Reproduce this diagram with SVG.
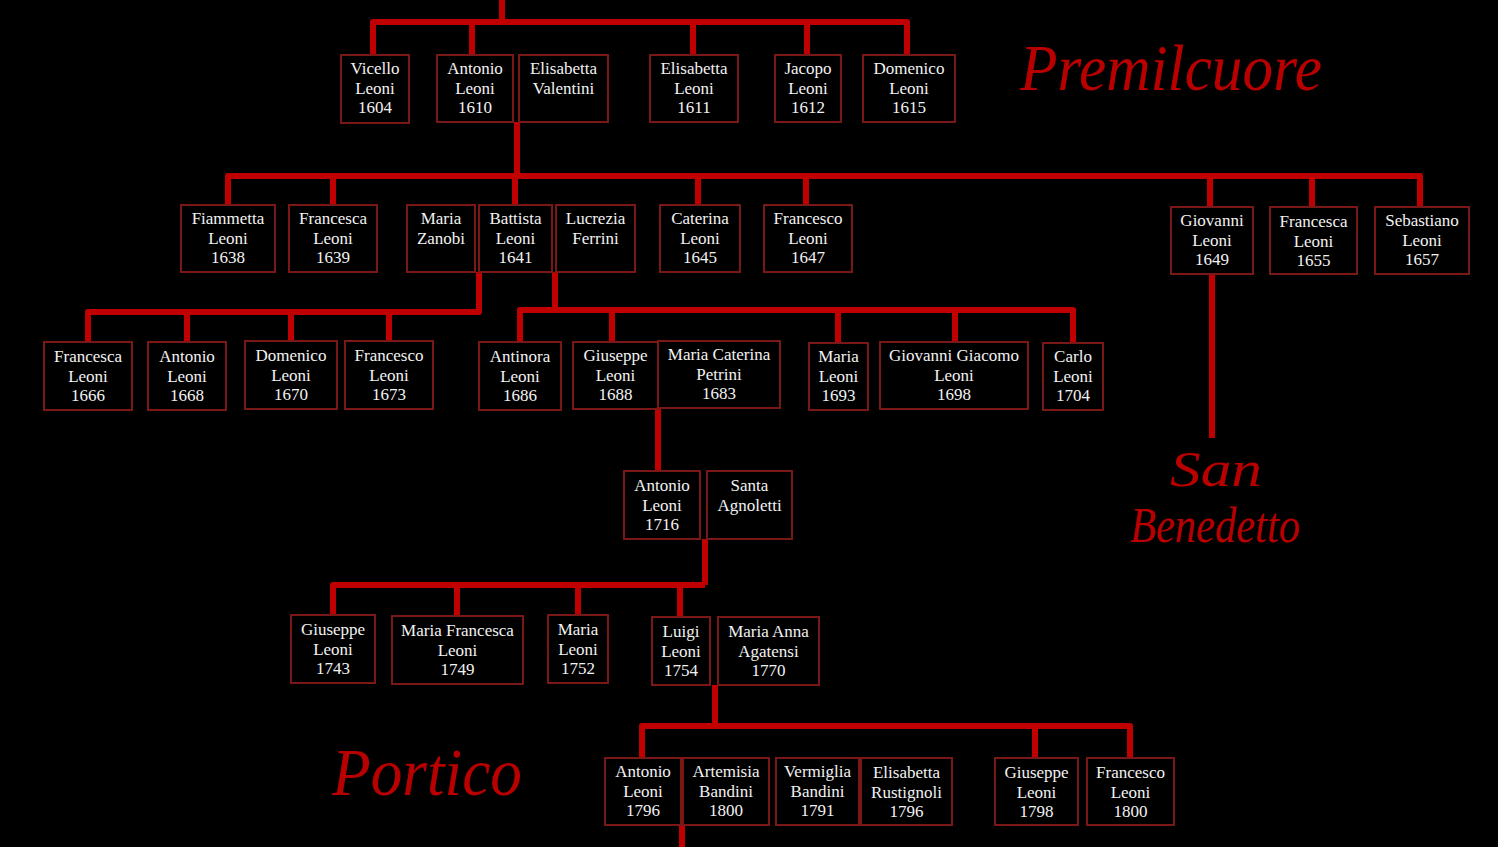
<svg xmlns="http://www.w3.org/2000/svg" width="1498" height="847" viewBox="0 0 1498 847">
<style>
.bg{fill:#000}
.wire{stroke:#c00000;stroke-width:6;fill:none;stroke-linejoin:round}
.node rect{fill:#000;stroke:#7a1818;stroke-width:2}
.node text{font-family:"Liberation Serif","DejaVu Serif",serif;font-size:17px;fill:#f2f2f2;text-anchor:middle}
.place{font-family:"Liberation Serif","DejaVu Serif",serif;font-style:italic;fill:#b80000}
</style>
<rect class="bg" x="0" y="0" width="1498" height="847"/>
<g id="connectors">
<path class="wire" d="M502,0 V22 M373,55 V22 H907 V55 M472,22 V55 M693,22 V55 M807,22 V55"/>
<path class="wire" d="M517,122 V176 M228,205 V176 H1420 V207 M333,176 V205 M515,176 V205 M698,176 V205 M806,176 V205 M1210,176 V207 M1312,176 V207"/>
<path class="wire" d="M1212,274 V438"/>
<path class="wire" d="M479,272 V312 H88 V342 M187,312 V342 M291,312 V341 M389,312 V341"/>
<path class="wire" d="M555,272 V310 M520,342 V310 H1073 V343 M612,310 V342 M838,310 V343 M955,310 V342"/>
<path class="wire" d="M658,409 V471"/>
<path class="wire" d="M705,539 V585 M333,615 V585 H705 M457,585 V616 M578,585 V615 M680,585 V617"/>
<path class="wire" d="M715,685 V726 M642,758 V726 H1130 V758 M1035,726 V758"/>
<path class="wire" d="M682,825 V847"/>
</g>
<g id="labels">
<text class="place" x="1020" y="90" font-size="66" textLength="302" lengthAdjust="spacingAndGlyphs">Premilcuore</text>
<text class="place" x="1170" y="486" font-size="50" textLength="92" lengthAdjust="spacingAndGlyphs">San</text>
<text class="place" x="1130" y="542" font-size="50" textLength="170" lengthAdjust="spacingAndGlyphs">Benedetto</text>
<text class="place" x="332" y="795" font-size="68" textLength="190" lengthAdjust="spacingAndGlyphs">Portico</text>
</g>
<g id="n-vicello" class="node"><rect x="341" y="55" width="68" height="68"/><text x="375" y="74">Vicello<tspan x="375" dy="19.5">Leoni</tspan><tspan x="375" dy="19.5">1604</tspan></text></g>
<g id="n-antonio1610" class="node"><rect x="437" y="55" width="76" height="67"/><text x="475" y="74">Antonio<tspan x="475" dy="19.5">Leoni</tspan><tspan x="475" dy="19.5">1610</tspan></text></g>
<g id="n-elisabetta-valentini" class="node"><rect x="519" y="55" width="89" height="67"/><text x="563.5" y="74">Elisabetta<tspan x="563.5" dy="19.5">Valentini</tspan></text></g>
<g id="n-elisabetta1611" class="node"><rect x="650" y="55" width="88" height="67"/><text x="694" y="74">Elisabetta<tspan x="694" dy="19.5">Leoni</tspan><tspan x="694" dy="19.5">1611</tspan></text></g>
<g id="n-jacopo" class="node"><rect x="775" y="55" width="66" height="67"/><text x="808" y="74">Jacopo<tspan x="808" dy="19.5">Leoni</tspan><tspan x="808" dy="19.5">1612</tspan></text></g>
<g id="n-domenico1615" class="node"><rect x="863" y="55" width="92" height="67"/><text x="909" y="74">Domenico<tspan x="909" dy="19.5">Leoni</tspan><tspan x="909" dy="19.5">1615</tspan></text></g>
<g id="n-fiammetta" class="node"><rect x="181" y="205" width="94" height="67"/><text x="228" y="224">Fiammetta<tspan x="228" dy="19.5">Leoni</tspan><tspan x="228" dy="19.5">1638</tspan></text></g>
<g id="n-francesca1639" class="node"><rect x="289" y="205" width="88" height="67"/><text x="333" y="224">Francesca<tspan x="333" dy="19.5">Leoni</tspan><tspan x="333" dy="19.5">1639</tspan></text></g>
<g id="n-maria-zanobi" class="node"><rect x="407" y="205" width="68" height="67"/><text x="441" y="224">Maria<tspan x="441" dy="19.5">Zanobi</tspan></text></g>
<g id="n-battista" class="node"><rect x="479" y="205" width="73" height="67"/><text x="515.5" y="224">Battista<tspan x="515.5" dy="19.5">Leoni</tspan><tspan x="515.5" dy="19.5">1641</tspan></text></g>
<g id="n-lucrezia" class="node"><rect x="556" y="205" width="79" height="67"/><text x="595.5" y="224">Lucrezia<tspan x="595.5" dy="19.5">Ferrini</tspan></text></g>
<g id="n-caterina" class="node"><rect x="660" y="205" width="80" height="67"/><text x="700" y="224">Caterina<tspan x="700" dy="19.5">Leoni</tspan><tspan x="700" dy="19.5">1645</tspan></text></g>
<g id="n-francesco1647" class="node"><rect x="764" y="205" width="88" height="67"/><text x="808" y="224">Francesco<tspan x="808" dy="19.5">Leoni</tspan><tspan x="808" dy="19.5">1647</tspan></text></g>
<g id="n-giovanni1649" class="node"><rect x="1171" y="207" width="82" height="67"/><text x="1212" y="226">Giovanni<tspan x="1212" dy="19.5">Leoni</tspan><tspan x="1212" dy="19.5">1649</tspan></text></g>
<g id="n-francesca1655" class="node"><rect x="1270" y="207" width="87" height="67"/><text x="1313.5" y="227">Francesca<tspan x="1313.5" dy="19.5">Leoni</tspan><tspan x="1313.5" dy="19.5">1655</tspan></text></g>
<g id="n-sebastiano" class="node"><rect x="1375" y="207" width="94" height="67"/><text x="1422" y="226">Sebastiano<tspan x="1422" dy="19.5">Leoni</tspan><tspan x="1422" dy="19.5">1657</tspan></text></g>
<g id="n-francesca1666" class="node"><rect x="44" y="342" width="88" height="68"/><text x="88" y="362">Francesca<tspan x="88" dy="19.5">Leoni</tspan><tspan x="88" dy="19.5">1666</tspan></text></g>
<g id="n-antonio1668" class="node"><rect x="148" y="342" width="78" height="68"/><text x="187" y="362">Antonio<tspan x="187" dy="19.5">Leoni</tspan><tspan x="187" dy="19.5">1668</tspan></text></g>
<g id="n-domenico1670" class="node"><rect x="245" y="341" width="92" height="68"/><text x="291" y="361">Domenico<tspan x="291" dy="19.5">Leoni</tspan><tspan x="291" dy="19.5">1670</tspan></text></g>
<g id="n-francesco1673" class="node"><rect x="345" y="341" width="88" height="68"/><text x="389" y="361">Francesco<tspan x="389" dy="19.5">Leoni</tspan><tspan x="389" dy="19.5">1673</tspan></text></g>
<g id="n-antinora" class="node"><rect x="479" y="342" width="82" height="68"/><text x="520" y="362">Antinora<tspan x="520" dy="19.5">Leoni</tspan><tspan x="520" dy="19.5">1686</tspan></text></g>
<g id="n-giuseppe1688" class="node"><rect x="573" y="342" width="85" height="67"/><text x="615.5" y="361">Giuseppe<tspan x="615.5" dy="19.5">Leoni</tspan><tspan x="615.5" dy="19.5">1688</tspan></text></g>
<g id="n-maria-caterina" class="node"><rect x="658" y="341" width="122" height="67"/><text x="719" y="360">Maria Caterina<tspan x="719" dy="19.5">Petrini</tspan><tspan x="719" dy="19.5">1683</tspan></text></g>
<g id="n-maria1693" class="node"><rect x="809" y="343" width="59" height="67"/><text x="838.5" y="362">Maria<tspan x="838.5" dy="19.5">Leoni</tspan><tspan x="838.5" dy="19.5">1693</tspan></text></g>
<g id="n-giovanni-giacomo" class="node"><rect x="880" y="342" width="148" height="67"/><text x="954" y="361">Giovanni Giacomo<tspan x="954" dy="19.5">Leoni</tspan><tspan x="954" dy="19.5">1698</tspan></text></g>
<g id="n-carlo" class="node"><rect x="1043" y="343" width="60" height="67"/><text x="1073" y="362">Carlo<tspan x="1073" dy="19.5">Leoni</tspan><tspan x="1073" dy="19.5">1704</tspan></text></g>
<g id="n-antonio1716" class="node"><rect x="624" y="471" width="76" height="68"/><text x="662" y="491">Antonio<tspan x="662" dy="19.5">Leoni</tspan><tspan x="662" dy="19.5">1716</tspan></text></g>
<g id="n-santa" class="node"><rect x="707" y="471" width="85" height="68"/><text x="749.5" y="491">Santa<tspan x="749.5" dy="19.5">Agnoletti</tspan></text></g>
<g id="n-giuseppe1743" class="node"><rect x="291" y="615" width="84" height="68"/><text x="333" y="635">Giuseppe<tspan x="333" dy="19.5">Leoni</tspan><tspan x="333" dy="19.5">1743</tspan></text></g>
<g id="n-maria-francesca" class="node"><rect x="392" y="616" width="131" height="68"/><text x="457.5" y="636">Maria Francesca<tspan x="457.5" dy="19.5">Leoni</tspan><tspan x="457.5" dy="19.5">1749</tspan></text></g>
<g id="n-maria1752" class="node"><rect x="548" y="615" width="60" height="68"/><text x="578" y="635">Maria<tspan x="578" dy="19.5">Leoni</tspan><tspan x="578" dy="19.5">1752</tspan></text></g>
<g id="n-luigi" class="node"><rect x="652" y="617" width="58" height="68"/><text x="681" y="637">Luigi<tspan x="681" dy="19.5">Leoni</tspan><tspan x="681" dy="19.5">1754</tspan></text></g>
<g id="n-maria-anna" class="node"><rect x="718" y="617" width="101" height="68"/><text x="768.5" y="637">Maria Anna<tspan x="768.5" dy="19.5">Agatensi</tspan><tspan x="768.5" dy="19.5">1770</tspan></text></g>
<g id="n-antonio1796" class="node"><rect x="605" y="758" width="76" height="67"/><text x="643" y="777">Antonio<tspan x="643" dy="19.5">Leoni</tspan><tspan x="643" dy="19.5">1796</tspan></text></g>
<g id="n-artemisia" class="node"><rect x="683" y="758" width="86" height="67"/><text x="726" y="777">Artemisia<tspan x="726" dy="19.5">Bandini</tspan><tspan x="726" dy="19.5">1800</tspan></text></g>
<g id="n-vermiglia" class="node"><rect x="776" y="758" width="83" height="67"/><text x="817.5" y="777">Vermiglia<tspan x="817.5" dy="19.5">Bandini</tspan><tspan x="817.5" dy="19.5">1791</tspan></text></g>
<g id="n-elisabetta-rustignoli" class="node"><rect x="861" y="758" width="91" height="67"/><text x="906.5" y="778">Elisabetta<tspan x="906.5" dy="19.5">Rustignoli</tspan><tspan x="906.5" dy="19.5">1796</tspan></text></g>
<g id="n-giuseppe1798" class="node"><rect x="995" y="758" width="83" height="67"/><text x="1036.5" y="778">Giuseppe<tspan x="1036.5" dy="19.5">Leoni</tspan><tspan x="1036.5" dy="19.5">1798</tspan></text></g>
<g id="n-francesco1800" class="node"><rect x="1087" y="758" width="87" height="67"/><text x="1130.5" y="778">Francesco<tspan x="1130.5" dy="19.5">Leoni</tspan><tspan x="1130.5" dy="19.5">1800</tspan></text></g>
</svg>
